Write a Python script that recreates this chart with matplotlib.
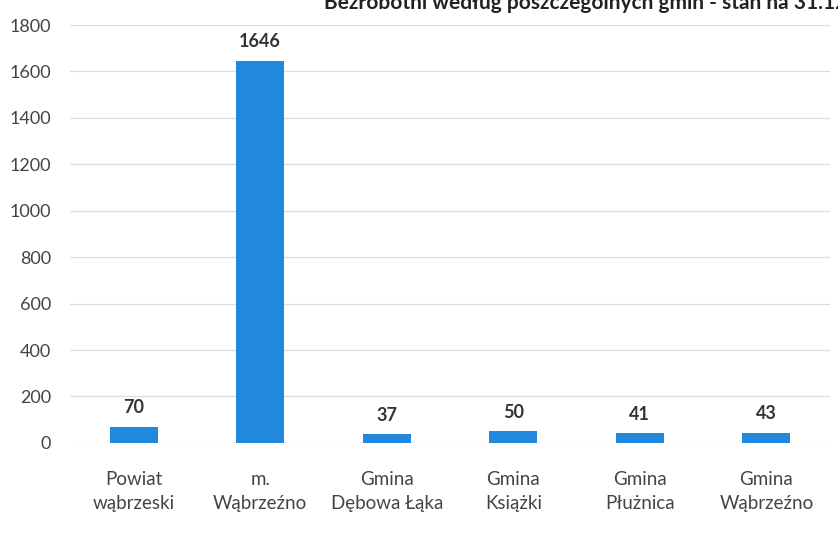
import matplotlib
matplotlib.use("Agg")
import matplotlib.pyplot as plt

categories = ["Powiat\nwąbrzeski", "m.\nWąbrzeźno", "Gmina\nDębowa Łąka",
              "Gmina\nKsiążki", "Gmina\nPłużnica", "Gmina\nWąbrzeźno"]
values = [70, 1646, 37, 50, 41, 43]
yticks = [0, 200, 400, 600, 800, 1000, 1200, 1400, 1600, 1800]
title = "Bezrobotni według poszczególnych gmin - stan na 31.12.2020"

plt.rcParams['font.family'] = ['Lato', 'DejaVu Sans']

fig = plt.figure(figsize=(8.38, 5.33), dpi=100)
fig.patch.set_facecolor('white')
ax = fig.add_axes([0.084, 0.169, 0.906, 0.784])

x = list(range(len(values)))
ax.bar(x, values, width=0.38, color='#2288dd', zorder=3)
for xi, v in zip(x, values):
    ax.text(xi, v + 45, str(v), ha='center', va='bottom', fontsize=13,
            fontweight='bold', color='#333333')

ax.set_ylim(0, 1800)
ax.set_xlim(-0.5, 5.5)
ax.set_yticks(yticks)
ax.set_yticklabels([str(t) for t in yticks], fontsize=13, color='#444444')
ax.set_xticks(x)
ax.set_xticklabels(categories, fontsize=13.5, color='#444444', linespacing=1.55)
ax.tick_params(axis='y', length=0, pad=14)
ax.tick_params(axis='x', length=0, pad=20)
ax.grid(axis='y', color='#dddddd', linewidth=0.9, zorder=0)
for s in ax.spines.values():
    s.set_visible(False)

fig.text(0.73, 0.995, title, ha='center', va='center', fontsize=15,
         fontweight='bold', color='#222222')

fig.savefig("out.png", dpi=100)
